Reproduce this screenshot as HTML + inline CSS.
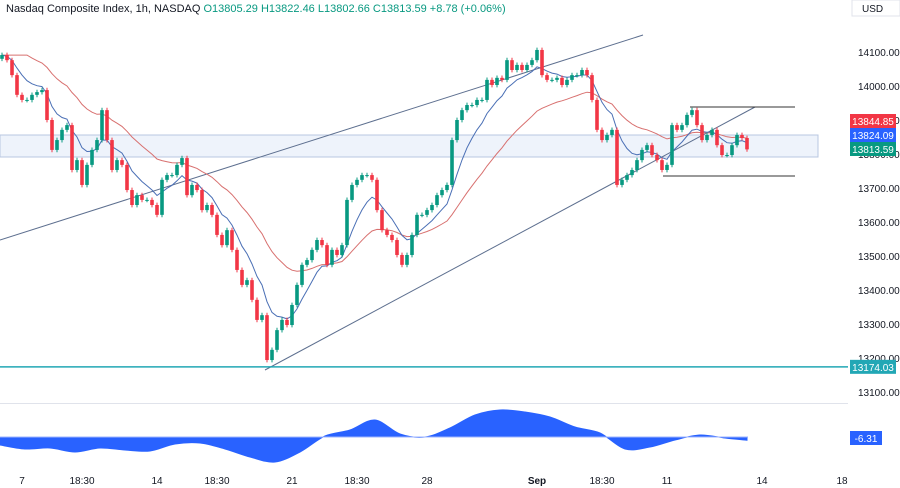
<!DOCTYPE html>
<html><head><meta charset="utf-8">
<style>
html,body{margin:0;padding:0;background:#fff;}
body{width:900px;height:488px;overflow:hidden;font-family:"Liberation Sans",sans-serif;}
svg{display:block;}
</style></head>
<body>
<svg id="chart" width="900" height="488" viewBox="0 0 900 488" xmlns="http://www.w3.org/2000/svg" font-family="Liberation Sans, sans-serif">
  <rect x="0" y="0" width="900" height="488" fill="#ffffff"/>
  <text x="6" y="12" font-size="11" fill="#131722">Nasdaq Composite Index, 1h, NASDAQ <tspan fill="#089981">O13805.29  H13822.46  L13802.66  C13813.59  +8.78 (+0.06%)</tspan></text>
  <rect x="852" y="0" width="48" height="16" fill="#fff" stroke="#e0e3eb"/>
  <text x="862" y="12" font-size="10" fill="#131722">USD</text>
  <line x1="0" y1="403.5" x2="848" y2="403.5" stroke="#e0e3eb"/>
  <rect x="0" y="135" width="818" height="22" fill="#eef3fb" stroke="#b8c7e0" stroke-width="1"/>
  <g id="axes"></g>
  <g id="drawings"></g>
  <g id="mas"></g>
  <g id="candles"></g>
  <g id="osc"></g>
  <g id="labels"></g>
</svg>
<script>
const closes=[14091,14076,14032,13974,13959,13959,13974,13982,13988,13900,13812,13841,13871,13885,13753,13782,13709,13768,13812,13841,13929,13841,13753,13782,13768,13694,13650,13679,13665,13665,13650,13621,13724,13738,13738,13768,13788,13679,13709,13694,13635,13650,13621,13562,13532,13576,13518,13459,13415,13429,13371,13312,13326,13194,13224,13282,13312,13297,13356,13415,13474,13488,13518,13547,13532,13474,13518,13503,13532,13665,13709,13724,13738,13738,13724,13635,13576,13562,13547,13503,13474,13503,13562,13621,13621,13635,13650,13679,13694,13709,13841,13900,13929,13944,13944,13959,13959,14018,14003,14024,14018,14076,14047,14062,14047,14062,14076,14106,14032,14018,14018,14024,14003,14018,14032,14032,14047,14032,13959,13871,13841,13856,13871,13709,13724,13738,13753,13782,13812,13826,13797,13782,13753,13768,13885,13871,13885,13915,13929,13885,13841,13856,13871,13826,13797,13797,13826,13856,13847,13813.59];
const oscValues=[-16,-24,-22,-30,-22,-26,-28,-14,-12,-24,-40,-50,-30,2,14,34,6,0,18,44,54,50,40,20,8,-24,-20,-6,4,-2,-6.31];
const priceTicks=[14100,14000,13900,13800,13700,13600,13500,13400,13300,13200,13100];
const timeLabels=["7","18:30","14","18:30","21","18:30","28","Sep","18:30","11","14","18"];
const timeLabelBars=[4,16,31,43,58,71,85,107,120,133,152,168];
const supportLevel=13174.03;
const NS="http://www.w3.org/2000/svg";
function yP(p){return 52+(14100-p)*0.34;}
function xB(i){return 2+i*5;}
function yO(v){return 437-v*0.5;}
function mk(tag,attrs,parent){const e=document.createElementNS(NS,tag);for(const k in attrs)e.setAttribute(k,attrs[k]);parent.appendChild(e);return e;}
const axes=document.getElementById('axes');
priceTicks.forEach(p=>{
  const t=mk('text',{x:858,y:yP(p)+4,'font-size':10,fill:'#131722'},axes);
  
  
  t.textContent=p.toFixed(2);
});
timeLabels.forEach((s,i)=>{
  const t=mk('text',{x:xB(timeLabelBars[i]),y:484,'font-size':10,fill:'#131722','text-anchor':'middle','font-weight':s==='Sep'?'bold':'normal'},axes);
  
  
  t.textContent=s;
});
const dr=document.getElementById('drawings');
let l=mk('line',{x1:0,y1:240,x2:643,y2:35,stroke:'#5d6f8f','stroke-width':1},dr);


l=mk('line',{x1:265,y1:370,x2:755,y2:107,stroke:'#5d6f8f','stroke-width':1},dr);


l=mk('line',{x1:690,y1:107,x2:795,y2:107,stroke:'#333','stroke-width':1},dr);


l=mk('line',{x1:663,y1:176,x2:795,y2:176,stroke:'#333','stroke-width':1},dr);


l=mk('line',{x1:0,y1:yP(supportLevel),x2:848,y2:yP(supportLevel),stroke:'#22a7b5','stroke-width':1.5},dr);


function ema(arr,n){const k=2/(n+1);let out=[],v=arr[0];arr.forEach(c=>{v=c*k+v*(1-k);out.push(v);});return out;}
const fast=ema(closes,8),slow=ema(closes.map((c,i)=>i<6?closes[0]:c),25);
const mas=document.getElementById('mas');
let p=mk('path',{d:slow.map((v,i)=>(i?'L':'M')+xB(i)+','+yP(v).toFixed(1)).join(''),fill:'none',stroke:'#d8706f','stroke-width':1},mas);


p=mk('path',{d:fast.map((v,i)=>(i?'L':'M')+xB(i)+','+yP(v).toFixed(1)).join(''),fill:'none',stroke:'#4a6fb5','stroke-width':1},mas);


const cg=document.getElementById('candles');
closes.forEach((c,i)=>{
  const o=i?closes[i-1]:14080;
  const up=c>=o,col=up?'#089981':'#f23645';
  const hi=Math.max(o,c)+7,lo=Math.min(o,c)-7;
  const g=mk('g',{},cg);
  
  
  mk('line',{x1:xB(i),x2:xB(i),y1:yP(hi),y2:yP(lo),stroke:col,'stroke-width':1},g);
  const yt=yP(Math.max(o,c)),h=Math.max(1,yP(Math.min(o,c))-yt);
  mk('rect',{x:xB(i)-1.8,y:yt,width:3.6,height:h,fill:col},g);
});
const og=document.getElementById('osc');
const ox=i=>Math.min(i*25,747);
const pts=oscValues.map((v,i)=>[ox(i),yO(v)]);
let d='M0,437L'+pts[0][0]+','+pts[0][1];
for(let i=0;i<pts.length-1;i++){
  const p0=pts[Math.max(0,i-1)],p1=pts[i],p2=pts[i+1],p3=pts[Math.min(pts.length-1,i+2)];
  const c1x=p1[0]+(p2[0]-p0[0])/6,c1y=p1[1]+(p2[1]-p0[1])/6;
  const c2x=p2[0]-(p3[0]-p1[0])/6,c2y=p2[1]-(p3[1]-p1[1])/6;
  d+='C'+c1x.toFixed(1)+','+c1y.toFixed(1)+' '+c2x.toFixed(1)+','+c2y.toFixed(1)+' '+p2[0]+','+p2[1].toFixed(1);
}
d+='L747,437Z';
p=mk('path',{d:d,fill:'#2962ff',stroke:'#2962ff','stroke-width':1},og);


l=mk('line',{x1:0,y1:437,x2:747,y2:437,stroke:'#9db4ff','stroke-width':1},og);


const lg=document.getElementById('labels');
function tag(val,bg,y,name){
  const g=mk('g',{},lg);
  
  
  mk('rect',{x:850,y:y-7,width:46,height:14,fill:bg},g);
  const t=mk('text',{x:873,y:y+4,'font-size':10,fill:'#fff','text-anchor':'middle'},g);
  t.textContent=val;
}
tag('13844.85','#f23645',121,'slow-ma-price-tag');
tag('13824.09','#2962ff',135,'fast-ma-price-tag');
tag(closes[closes.length-1].toFixed(2),'#089981',149,'last-price-tag');
tag(supportLevel.toFixed(2),'#22a7b5',yP(supportLevel),'support-price-tag');
const last=oscValues[oscValues.length-1];
const g2=mk('g',{},lg);


mk('rect',{x:850,y:431,width:32,height:14,fill:'#2962ff'},g2);
const t2=mk('text',{x:866,y:442,'font-size':10,fill:'#fff','text-anchor':'middle'},g2);
t2.textContent=last.toFixed(2);
</script>
</body></html>
